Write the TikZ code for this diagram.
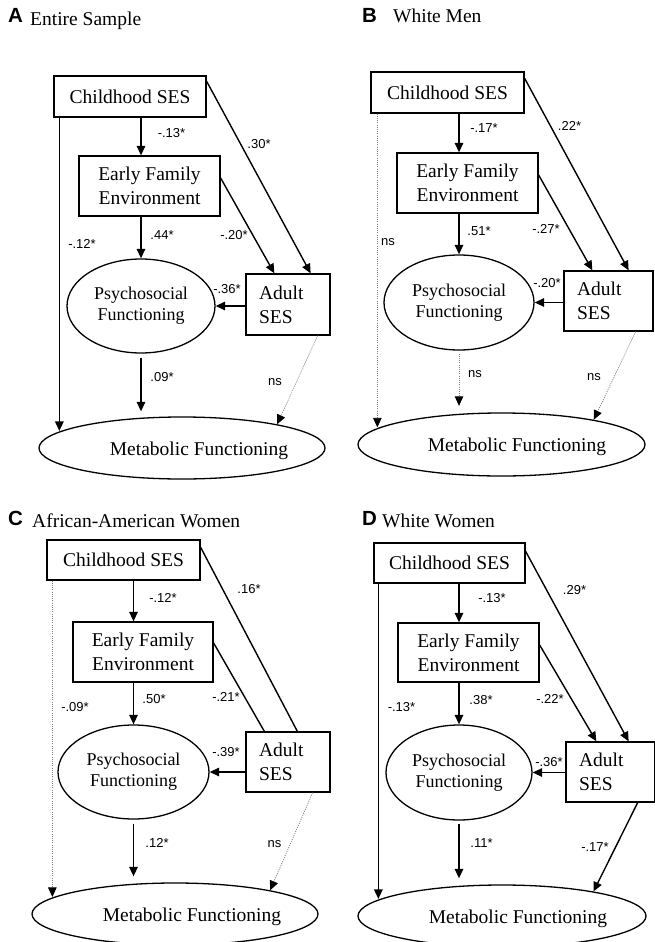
\documentclass[tikz,border=0pt]{standalone}
\usepackage{fontspec}
\setmainfont{Liberation Serif}
\setsansfont{Liberation Sans}
\usetikzlibrary{arrows.meta,shapes.geometric}
\begin{document}
\begin{tikzpicture}[x=1pt,y=-1pt,
  box/.style={draw, line width=1.3pt, rectangle, inner sep=0pt, align=center, font=\fontsize{19.5}{24}\selectfont},
  abox/.style={draw, line width=1.3pt, rectangle, inner xsep=13pt, inner ysep=0pt, align=left, font=\fontsize{19.5}{24}\selectfont},
  oval/.style={draw, line width=1.3pt, ellipse, inner sep=0pt, align=center, font=\fontsize{18}{21}\selectfont},
  mtext/.style={font=\fontsize{19.5}{24}\selectfont, inner sep=0pt},
  lbl/.style={font=\sffamily\fontsize{13}{15}\selectfont, inner sep=0pt},
  ttl/.style={font=\sffamily\bfseries\fontsize{20.5}{22}\selectfont, inner sep=0pt, anchor=base west},
  ttx/.style={font=\fontsize{19.5}{24}\selectfont, inner sep=0pt, anchor=base west},
  arr/.style={line width=1.4pt, -{Triangle[length=9.5pt,width=8.5pt]}},
  ln/.style={line width=1.4pt},
  dotarr/.style={line width=0.8pt, gray, dash pattern=on 1pt off 1.2pt, -{Triangle[length=9.5pt,width=8.5pt,color=black]}},
]
\useasboundingbox (0,0) rectangle (655,942);
\fill[white] (0,0) rectangle (655,942);

% ---------------- Panel A ----------------
\node[ttl] (atl) at (8,23) {A};
\node[ttx] (att) at (30,26) {Entire Sample};
\node[box, minimum width=152pt, minimum height=41pt] (acs) at (130,96.5) {Childhood SES};
\node[box, minimum width=141pt, minimum height=60pt] (aefe) at (149.5,186) {Early Family\\Environment};
\node[oval, minimum width=148pt, minimum height=94pt] (apsy) at (141,306) {Psychosocial\\Functioning};
\node[abox, text width=58pt, minimum height=61pt] (aad) at (288,304.5) {Adult\\SES};
\node[oval, minimum width=286pt, minimum height=62pt] (ame) at (182,448) {};
\node[mtext] (amt) at (199,450.5) {Metabolic Functioning};

\draw[arr] (acs.south -| apsy.north) -- (aefe.north -| apsy.north);
\draw[arr] (aefe.south -| apsy.north) -- (apsy.north);
\draw[arr, shorten <=4pt, shorten >=5pt] (apsy.south) -- (apsy.south |- ame.north);
\draw[arr] (aad.west |- apsy.east) -- (apsy.east);
\draw[arr] ([yshift=-6pt]acs.north east) -- ([xshift=-20pt]aad.north east);
\draw[arr] ([yshift=8pt]aefe.east) -- ([xshift=29pt]aad.north west);
\draw[dotarr] ([xshift=-13pt]aad.south east) -- (ame.14);
\draw[arr] ([xshift=6pt]acs.south west) -- ([xshift=6pt]acs.south west |- ame.172);

\node[lbl] (al1) at (171.5,133) {-.13*};
\node[lbl] (al2) at (259,144) {.30*};
\node[lbl] (al3) at (162,235) {.44*};
\node[lbl] (al4) at (234,235) {-.20*};
\node[lbl] (al5) at (82,244) {-.12*};
\node[lbl] (al6) at (227,289) {-.36*};
\node[lbl] (al7) at (162,377) {.09*};
\node[lbl] (al8) at (275,382) {ns};

% ---------------- Panel B ----------------
\node[ttl] (btl) at (362,23) {B};
\node[ttx] (btt) at (393,23) {White Men};
\node[box, minimum width=153pt, minimum height=41pt] (bcs) at (447.5,92.5) {Childhood SES};
\node[box, minimum width=141pt, minimum height=60pt] (befe) at (467.5,183) {Early Family\\Environment};
\node[oval, minimum width=150pt, minimum height=95pt] (bpsy) at (459,302.5) {Psychosocial\\Functioning};
\node[abox, text width=63pt, minimum height=60pt] (bad) at (608.5,301) {Adult\\SES};
\node[oval, minimum width=287pt, minimum height=63pt] (bme) at (501.5,444.5) {};
\node[mtext] (bmt) at (517,447) {Metabolic Functioning};

\draw[arr] (bcs.south -| bpsy.north) -- (befe.north -| bpsy.north);
\draw[arr] (befe.south -| bpsy.north) -- (bpsy.north);
\draw[dotarr, shorten <=3pt, shorten >=6.5pt] (bpsy.south) -- (bpsy.south |- bme.north);
\draw[arr] (bad.west |- bpsy.east) -- (bpsy.east);
\draw[arr] ([yshift=-7pt]bcs.north east) -- ([xshift=-25pt]bad.north east);
\draw[arr] ([yshift=8pt]befe.east) -- ([xshift=29pt]bad.north west);
\draw[dotarr] ([xshift=-18pt]bad.south east) -- (bme.15);
\draw[dotarr] ([xshift=7pt]bcs.south west) -- ([xshift=7pt]bcs.south west |- bme.172);

\node[lbl] (bl1) at (484,128) {-.17*};
\node[lbl] (bl2) at (569.5,126) {.22*};
\node[lbl] (bl3) at (388,242) {ns};
\node[lbl] (bl4) at (479,231) {.51*};
\node[lbl] (bl5) at (546,228.5) {-.27*};
\node[lbl] (bl6) at (547,283) {-.20*};
\node[lbl] (bl7) at (475,374) {ns};
\node[lbl] (bl8) at (594,377) {ns};

% ---------------- Panel C ----------------
\node[ttl] (ctl) at (8,525) {C};
\node[ttx] (ctt) at (32,527) {African-American Women};
\node[box, minimum width=153pt, minimum height=40pt] (ccs) at (123.5,560) {Childhood SES};
\node[box, minimum width=140pt, minimum height=60pt] (cefe) at (143,652) {Early Family\\Environment};
\node[oval, minimum width=151pt, minimum height=94pt] (cpsy) at (133.5,772) {Psychosocial\\Functioning};
\node[abox, text width=58pt, minimum height=60pt] (cad) at (288,762) {Adult\\SES};
\node[oval, minimum width=286pt, minimum height=62pt] (cme) at (175,914) {};
\node[mtext] (cmt) at (192,917) {Metabolic Functioning};

\draw[arr] (ccs.south -| cpsy.north) -- (cefe.north -| cpsy.north);
\draw[arr] (cefe.south -| cpsy.north) -- (cpsy.north);
\draw[arr, shorten <=4pt, shorten >=6pt] (cpsy.south) -- (cpsy.south |- cme.north);
\draw[arr] (cad.west |- cpsy.east) -- (cpsy.east);
\draw[ln] ([yshift=-8pt]ccs.north east) -- ([xshift=52pt]cad.north west);
\draw[ln] ([yshift=9pt]cefe.east) -- ([xshift=19pt]cad.north west);
\draw[dotarr] ([xshift=-18pt]cad.south east) -- (cme.14);
\draw[dotarr] ([xshift=6pt]ccs.south west) -- ([xshift=6pt]ccs.south west |- cme.172);

\node[lbl] (cl1) at (163,598) {-.12*};
\node[lbl] (cl2) at (249,589) {.16*};
\node[lbl] (cl3) at (154,699) {.50*};
\node[lbl] (cl4) at (226,697) {-.21*};
\node[lbl] (cl5) at (75,707) {-.09*};
\node[lbl] (cl6) at (226,752) {-.39*};
\node[lbl] (cl7) at (157,843) {.12*};
\node[lbl] (cl8) at (274.5,844) {ns};

% ---------------- Panel D ----------------
\node[ttl] (dtl) at (362,525) {D};
\node[ttx] (dtt) at (382,527) {White Women};
\node[box, minimum width=151pt, minimum height=40pt] (dcs) at (449.5,563) {Childhood SES};
\node[box, minimum width=141pt, minimum height=59pt] (defe) at (468.5,652.5) {Early Family\\Environment};
\node[oval, minimum width=146pt, minimum height=95pt] (dpsy) at (459,772.5) {Psychosocial\\Functioning};
\node[abox, text width=63pt, minimum height=60pt] (dad) at (610.5,772) {Adult\\SES};
\node[oval, minimum width=288pt, minimum height=62pt] (dme) at (502,916) {};
\node[mtext] (dmt) at (518,918.5) {Metabolic Functioning};

\draw[arr] (dcs.south -| dpsy.north) -- (defe.north -| dpsy.north);
\draw[arr] (defe.south -| dpsy.north) -- (dpsy.north);
\draw[arr, shorten <=3pt, shorten >=6pt] (dpsy.south) -- (dpsy.south |- dme.north);
\draw[arr] (dad.west |- dpsy.east) -- (dpsy.east);
\draw[arr] ([yshift=-9pt]dcs.north east) -- ([xshift=-27pt]dad.north east);
\draw[arr] ([yshift=7.5pt]defe.east) -- ([xshift=31pt]dad.north west);
\draw[arr] ([xshift=-18pt]dad.south east) -- (dme.15);
\draw[arr] ([xshift=5pt]dcs.south west) -- ([xshift=5pt]dcs.south west |- dme.172);

\node[lbl] (dl1) at (492,598) {-.13*};
\node[lbl] (dl2) at (574.5,590) {.29*};
\node[lbl] (dl3) at (481,700) {.38*};
\node[lbl] (dl4) at (550,699) {-.22*};
\node[lbl] (dl5) at (401.5,707) {-.13*};
\node[lbl] (dl6) at (549,762) {-.36*};
\node[lbl] (dl7) at (481.5,843) {.11*};
\node[lbl] (dl8) at (595,847) {-.17*};
\end{tikzpicture}
\end{document}
